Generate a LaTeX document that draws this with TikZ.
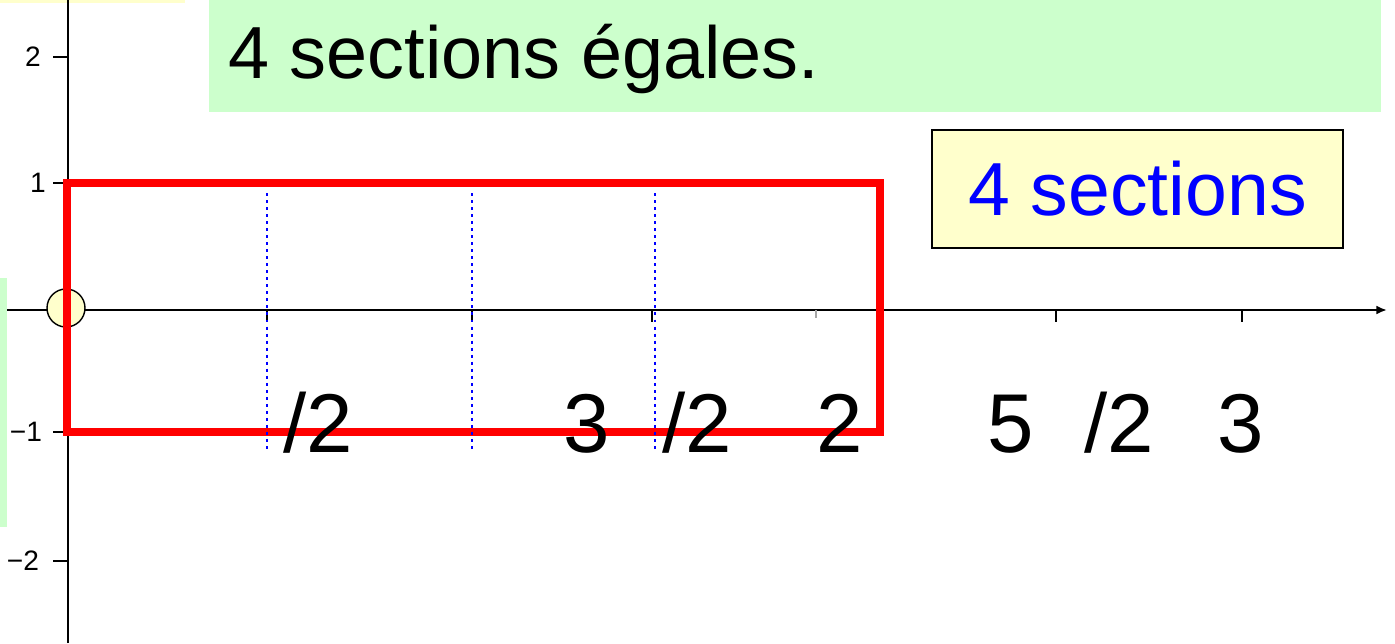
\documentclass[tikz,border=0pt]{standalone}
\usepackage{fontspec}
\setmainfont{Liberation Sans}
\usepackage{xcolor}
\usetikzlibrary{arrows.meta}
\definecolor{paleGreen}{HTML}{CCFFCC}
\definecolor{paleYellow}{HTML}{FFFFCC}

\begin{document}
\begin{tikzpicture}[x=0.02cm, y=-0.02cm,
      axis/.style={line width=1.6pt},
      tick/.style={line width=1.2pt},
      frame/.style={draw=red, line width=5pt},
      cut/.style={blue, line width=1.6pt, dash pattern=on 1.7pt off 2.3pt},
      big/.style={font=\fontsize{47.5}{50}\selectfont, inner sep=0pt, anchor=base west},
      ylab/.style={font=\fontsize{16}{18}\selectfont, inner sep=0pt}
    ]
    \useasboundingbox (0,0) rectangle (1395,643);

    %% ---- pieces of boxes cut by the border ----
    \fill[paleYellow] (0,0) rectangle (185,3);
    \fill[paleGreen] (0,278) rectangle (7,527);
    \fill[paleGreen] (209,0) rectangle (1381,112);
    \node[anchor=base west, inner sep=0pt, font=\fontsize{42}{50}\selectfont]
          (title) at (228,78) {4 sections égales.};

    %% ---- axes ----
    \draw[axis] (68,643) -- (68,0);
    \draw[axis, -{Latex[length=6pt, width=5pt]}] (7,310) -- (1387,310);

    %% y ticks
    \foreach \y/\t/\lx in {57/2/33, 183/1/38, 432/−1/26, 561/−2/23} {
      \draw[tick] (53,\y) -- (68,\y);
      \node[ylab] at (\lx,\y) {\t};
    }

    %% x ticks
    \foreach \x in {267, 472, 652, 1056, 1242}
      \draw[tick] (\x,310) -- (\x,322);
    \draw[tick, black!35] (816,310) -- (816,318);

    %% origin marker
    \node[circle, draw, line width=0.8pt, fill=paleYellow, minimum size=0.76cm,
          inner sep=0pt] (origin) at (66,308) {};

    %% ---- red frame and the cuts ----
    \draw[frame] (67,183) rectangle (880,432);
    \foreach \x in {267, 472, 655}
      \draw[cut] (\x,193) -- (\x,450);

    %% ---- x labels ----
    \node[big] (half)   at (283,452)  {/2};
    \node[big] (threeh) at (563,452)  {3\hspace{0.63em}/2};
    \node[big] (two)    at (816,452)  {2};
    \node[big] (fiveh)  at (987,452)  {5\hspace{0.61em}/2};
    \node[big] (three)  at (1217,452) {3};

    %% ---- count box ----
    \node[draw, line width=0.8pt, fill=paleYellow, text=blue,
          minimum width=8.22cm, minimum height=2.36cm,
          font=\fontsize{42.8}{50}\selectfont] (count) at (1137.5,189) {4 sections};

  \end{tikzpicture}
\end{document}
